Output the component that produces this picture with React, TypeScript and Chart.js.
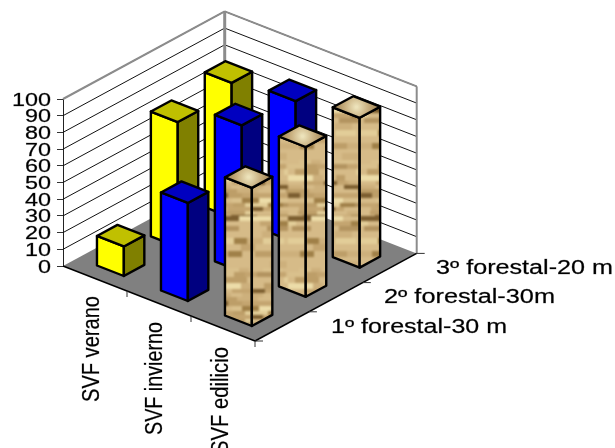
import React, { useEffect, useRef } from "react";
import { Chart, registerables } from "chart.js";

Chart.register(...registerables);

// Depth axis (front to back)
const forestalLabels = ["1º forestal-30 m", "2º forestal-30m", "3º forestal-20 m"];
// Row axis (left to right along the front edge)
const svfLabels = ["SVF verano", "SVF invierno", "SVF edilicio"];

const svfVerano = [18, 75, 81];
const svfInvierno = [59, 88, 85];
const svfEdilicio = [83, 90, 90];

const valueSteps = 10;

type Face = { front: string | CanvasPattern; side: string | CanvasPattern; top: string | CanvasGradient | CanvasPattern };

// Oblique projection of the floor: one row step and one depth step, in pixels
const ROW_STEP = { x: 64, y: 25 };
const DEPTH_STEP = { x: 53.9, y: -29.2 };

function hash(a: number, b: number) {
  const s = Math.sin(a * 12.9898 + b * 78.233) * 43758.5453;
  return s - Math.floor(s);
}

// Streaky stone finish used on the third group of columns
function makeStoneCanvas(): HTMLCanvasElement {
  const W = 72;
  const H = 108;
  const raw = document.createElement("canvas");
  raw.width = W;
  raw.height = H;
  const c = raw.getContext("2d")!;
  const palette = ["#d6bb88", "#cdb07c", "#c4a570", "#e2cd98", "#bd9e68", "#d9c08c", "#ecdca8", "#b39460", "#a08048", "#7c5e30"];
  c.fillStyle = "#c8ab78";
  c.fillRect(0, 0, W, H);
  let y = 0;
  let row = 0;
  while (y < H) {
    const h = Math.min(H - y, 4 + Math.floor(hash(row, 3) * 4));
    let x = -Math.floor(hash(row, 7) * 10);
    let k = 0;
    while (x < W) {
      const w = 9 + Math.floor(hash(row, k + 11) * 20);
      const n = hash(k + 5, row + 17);
      c.fillStyle = palette[Math.min(palette.length - 1, Math.floor(n * n * palette.length))];
      c.fillRect(x, y, w, h);
      x += w;
      k++;
    }
    y += h;
    row++;
  }
  // Blur a 3×3 repeat and keep its middle, so that the tile stays opaque and seamless
  const sheet = document.createElement("canvas");
  sheet.width = W * 3;
  sheet.height = H * 3;
  const m = sheet.getContext("2d")!;
  for (let ox = 0; ox < 3; ox++) {
    for (let oy = 0; oy < 3; oy++) {
      m.drawImage(raw, ox * W, oy * H);
    }
  }
  const soft = document.createElement("canvas");
  soft.width = W * 3;
  soft.height = H * 3;
  const s = soft.getContext("2d")!;
  s.filter = "blur(1.2px)";
  s.drawImage(sheet, 0, 0);
  s.filter = "none";
  const tile = document.createElement("canvas");
  tile.width = W;
  tile.height = H;
  tile.getContext("2d")!.drawImage(soft, -W, -H);
  return tile;
}

function fitText(
  ctx: CanvasRenderingContext2D,
  text: string,
  x: number,
  y: number,
  length: number,
  px: number,
  angle = 0
) {
  ctx.save();
  ctx.font = `${px}px "Liberation Sans", Arial, sans-serif`;
  ctx.fillStyle = "#000";
  ctx.strokeStyle = "rgba(0,0,0,0.55)";
  ctx.lineWidth = 0.4;
  ctx.textAlign = "left";
  ctx.textBaseline = "alphabetic";
  ctx.translate(x, y);
  ctx.rotate(angle);
  ctx.scale(length / ctx.measureText(text).width, 1);
  ctx.fillText(text, 0, 0);
  ctx.strokeText(text, 0, 0);
  ctx.restore();
}

const scene3d = {
  id: "scene3d",
  beforeDatasetsDraw(chart: any) {
    const { ctx, chartArea, scales } = chart;
    const ys = scales.y;
    const xs = scales.x;
    const originX = chartArea.left;
    const originY = chartArea.bottom;
    const rise = (v: number) => ys.getPixelForValue(v) - ys.getPixelForValue(0);
    const project = (row: number, depth: number, lift = 0) => ({
      x: originX + row * ROW_STEP.x + depth * DEPTH_STEP.x,
      y: originY + row * ROW_STEP.y + depth * DEPTH_STEP.y + lift,
    });
    const poly = (pts: { x: number; y: number }[]) => {
      ctx.beginPath();
      pts.forEach((p, i) => (i ? ctx.lineTo(p.x, p.y) : ctx.moveTo(p.x, p.y)));
      ctx.closePath();
    };
    const line = (a: { x: number; y: number }, b: { x: number; y: number }) => {
      ctx.beginPath();
      ctx.moveTo(a.x, a.y);
      ctx.lineTo(b.x, b.y);
      ctx.stroke();
    };
    const rows = svfLabels.length;
    const depths = forestalLabels.length;

    ctx.save();
    // Floor
    const left = project(0, 0);
    const front = project(rows, 0);
    const right = project(rows, depths);
    const back = project(0, depths);
    poly([left, front, right, back]);
    ctx.fillStyle = "#808080";
    ctx.fill();

    // Wall grid lines follow the value axis ticks
    ctx.strokeStyle = "#111";
    ctx.lineWidth = 1;
    ys.ticks.forEach((t: any) => {
      if (t.value === 0) return;
      const l = rise(t.value);
      line(project(0, 0, l), project(0, depths, l));
      line(project(0, depths, l), project(rows, depths, l));
    });

    // Wall outlines
    const top = rise(100);
    ctx.strokeStyle = "#8c8c8c";
    ctx.lineWidth = 2;
    line(project(0, 0, top), project(0, depths, top));
    line(project(0, depths, top), project(rows, depths, top));
    line(project(rows, depths, top), right);
    ctx.lineWidth = 3;
    line(project(0, depths, top), back);

    // Floor edges and tick marks
    ctx.strokeStyle = "#000";
    ctx.lineWidth = 1.5;
    line(left, front);
    line(front, right);
    ctx.strokeStyle = "#333";
    ctx.lineWidth = 1;
    for (let r = 1; r <= rows; r++) {
      const p = project(r, 0);
      line(p, { x: p.x, y: p.y + 6 });
    }
    for (let d = 0; d <= depths; d++) {
      const p = project(rows, d);
      line(p, { x: p.x + 8, y: p.y });
    }

    // Columns, painted from the back row forward
    const stone = ctx.createPattern(makeStoneCanvas(), "repeat");
    const stoneTop = (c: { x: number; y: number }) => {
      const g = ctx.createRadialGradient(c.x, c.y, 1, c.x, c.y, 24);
      g.addColorStop(0, "#ece2ba");
      g.addColorStop(0.45, "#c9b080");
      g.addColorStop(1, "#96794a");
      return g;
    };
    const looks: Face[] = [
      { front: "#ffff00", side: "#808000", top: "#c0c000" },
      { front: "#0000ff", side: "#000080", top: "#0000c0" },
      { front: stone, side: stone, top: "" },
    ];
    ctx.lineJoin = "round";
    ctx.strokeStyle = "#000";
    ctx.lineWidth = 2.4;
    for (let j = depths - 1; j >= 0; j--) {
      const depthMid = ((xs.getPixelForValue(j) - chartArea.left) / chartArea.width) * depths;
      const d0 = depthMid - 0.226;
      const d1 = depthMid + 0.154;
      for (let i = 0; i < rows; i++) {
        const bar = chart.getDatasetMeta(i).data[j];
        const h = bar.y - bar.base;
        const r0 = i + 0.3;
        const r1 = i + 0.72;
        const bl = project(r0, d0);
        const bf = project(r1, d0);
        const br = project(r1, d1);
        const tl = project(r0, d0, h);
        const tf = project(r1, d0, h);
        const tr = project(r1, d1, h);
        const tb = project(r0, d1, h);
        const look = looks[i];
        poly([bl, bf, tf, tl]);
        ctx.fillStyle = look.front;
        ctx.fill();
        ctx.stroke();
        poly([bf, br, tr, tf]);
        ctx.fillStyle = look.side;
        ctx.fill();
        ctx.stroke();
        poly([tl, tf, tr, tb]);
        ctx.fillStyle = look.top || stoneTop({ x: (tl.x + tr.x) / 2, y: (tb.y + tf.y) / 2 });
        ctx.fill();
        ctx.stroke();
      }
    }
    ctx.restore();

    // Value axis labels, set wide
    ys.ticks.forEach((t: any) => {
      const label = String(t.value);
      const w = label.length * 13;
      fitText(ctx, label, 51 - w, ys.getPixelForValue(t.value) + 6.5, w, 18);
    });

    // Depth axis labels
    const depthLabelPos = [
      { x: 331, y: 333, w: 176 },
      { x: 384, y: 303, w: 171 },
      { x: 436, y: 274, w: 177 },
    ];
    forestalLabels.forEach((label, k) => {
      const p = depthLabelPos[k];
      fitText(ctx, label, p.x, p.y, p.w, 19.5);
    });

    // Row axis labels, reading upward
    const rowLabelPos = [
      { x: 99, y: 402, w: 106 },
      { x: 162, y: 435, w: 113 },
      { x: 228, y: 454, w: 107 },
    ];
    svfLabels.forEach((label, k) => {
      const p = rowLabelPos[k];
      fitText(ctx, label, p.x, p.y, p.w, 23, -Math.PI / 2);
    });
    return false;
  },
};

export default function App() {
  const ref = useRef<HTMLCanvasElement>(null);
  useEffect(() => {
    const chart = new Chart(ref.current!, {
      type: "bar",
      data: {
        labels: forestalLabels,
        datasets: [
          { label: svfLabels[0], data: svfVerano, backgroundColor: "#ffff00" },
          { label: svfLabels[1], data: svfInvierno, backgroundColor: "#0000ff" },
          { label: svfLabels[2], data: svfEdilicio, backgroundColor: "#c9ac78" },
        ],
      },
      options: {
        animation: false,
        responsive: false,
        layout: { padding: { top: 99, bottom: 182, right: 360, left: 0 } },
        plugins: { legend: { display: false }, title: { display: false }, tooltip: { enabled: false } },
        scales: {
          x: { display: false },
          y: {
            min: 0,
            max: 100,
            ticks: { stepSize: valueSteps, display: false, autoSkip: false },
            grid: { drawOnChartArea: false, drawTicks: true, tickLength: 6, color: "#333" },
            border: { display: true, color: "#222", width: 1 },
            afterFit(scale: any) {
              scale.width = 63;
            },
          },
        },
      },
      plugins: [scene3d],
    } as any);
    return () => chart.destroy();
  }, []);
  return (
    <div style={{ position: "absolute", left: 0, top: 0, width: 615, height: 448, overflow: "hidden", background: "#fff" }}>
      <canvas ref={ref} width={615} height={448} style={{ display: "block" }} />
    </div>
  );
}
